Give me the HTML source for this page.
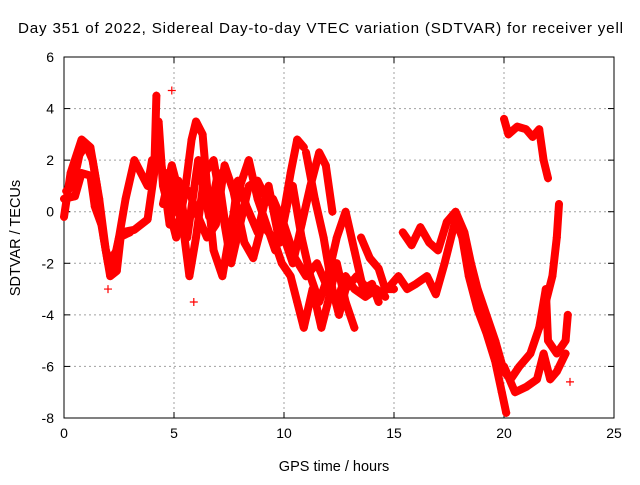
<!DOCTYPE html>
<html><head><meta charset="utf-8"><style>
body{margin:0;background:#fff}
svg text{font-family:"Liberation Sans",sans-serif;fill:#000}
</style></head><body>
<svg id="chart" width="640" height="480" xmlns="http://www.w3.org/2000/svg">
<text x="18" y="33" font-size="15.2" textLength="605" lengthAdjust="spacing">Day 351 of 2022, Sidereal Day-to-day VTEC variation (SDTVAR) for receiver yell</text>
<g id="grid"></g>
<g id="axes"></g>
<g id="marks"></g>
<text x="334" y="471" font-size="14.5" text-anchor="middle">GPS time / hours</text>
<text transform="translate(20,238) rotate(-90)" font-size="14.5" text-anchor="middle">SDTVAR / TECUs</text>
</svg>
<script>
const xTicks=[0,5,10,15,20,25];
const yTicks=[-8,-6,-4,-2,0,2,4,6];
const trackA=[[0,-0.2],[0.3,1.5],[0.8,2.8],[1.2,2.5],[1.5,1.0],[1.8,-1.0],[2.1,-2.5],[2.4,-2.3],[2.6,-0.8],[3.2,-0.7],[3.8,-0.3],[4.1,1.5],[4.2,4.5]];
const trackB=[[0,0.5],[0.5,0.6],[0.8,1.5],[1.2,1.4],[1.4,0.2],[1.7,-0.5],[2.0,-2.0],[2.4,-1.5],[2.8,0.5],[3.2,2.0],[3.5,1.5],[3.8,1.0],[4.0,2.0]];
const trackC=[[4.3,3.5],[4.5,1],[4.8,0],[5.1,-1],[5.5,0.8],[5.8,2.8],[6.0,3.5],[6.3,3.0],[6.5,1],[6.8,-1.5],[7.2,-2.5],[7.6,-0.5],[8.0,1.0],[8.4,2.0],[8.8,0.5],[9.2,-0.5],[9.6,-1.5],[9.9,-0.5],[10.3,1.5],[10.6,2.8],[10.9,2.5]];
const trackD=[[4.7,1.5],[5.0,0.5],[5.4,-0.5],[5.7,-2.5],[6.0,-1],[6.4,1.5],[6.8,2.0],[7.2,0],[7.6,-2],[8.0,-0.5],[8.4,1.0],[8.8,1.2],[9.2,0.5],[9.6,0.2],[10.0,-1],[10.4,-2],[10.8,-0.5],[11.2,1],[11.6,2.3],[11.9,1.8],[12.2,0]];
const trackE=[[4.5,0.3],[4.9,1.8],[5.3,0.5],[5.7,0.8],[6.0,0],[6.5,-1],[6.9,-0.5],[7.3,1.8],[7.7,0.8],[8.2,-1.2],[8.6,-1.8],[9.0,-0.5],[9.5,-1],[9.9,-2],[10.3,-2.5],[10.6,-3.5],[10.9,-4.5],[11.3,-3],[11.7,-4.5],[12.0,-3.5],[12.4,-2],[12.8,-3.5],[13.2,-4.5]];
const trackF=[[10.4,1],[10.8,-1],[11.2,-2.5],[11.6,-3.5],[12.0,-2.5],[12.4,-1],[12.8,0],[13.2,-1.5],[13.6,-3],[14.0,-2.8],[14.3,-3.5]];
const trackG=[[11.0,2.3],[11.4,0.5],[11.8,-1],[12.2,-3],[12.5,-4],[12.8,-3],[13.3,-2.5],[13.8,-3.0],[14.2,-3.2],[14.7,-3],[15.2,-2.5],[15.6,-3.0],[16.0,-2.8],[16.5,-2.5],[16.9,-3.2],[17.3,-2.0],[17.8,-0.3],[18.1,-1],[18.4,-2.5],[18.8,-3.8],[19.2,-4.7],[19.6,-5.8],[19.9,-7],[20.1,-7.8]];
const trackH=[[13.5,-1],[13.9,-1.8],[14.3,-2.2],[14.6,-3.0],[15.0,-3.0]];
const trackI=[[15.4,-0.8],[15.8,-1.3],[16.2,-0.6],[16.6,-1.2],[17.0,-1.5],[17.4,-0.4],[17.8,0.0],[18.2,-0.8],[18.5,-2],[18.8,-3],[19.2,-4],[19.6,-5],[20.0,-6.2],[20.3,-6.5],[20.7,-6],[21.2,-5.5],[21.6,-4.5],[21.9,-3],[22.0,-5],[22.4,-5.5],[22.8,-5],[22.9,-4]];
const trackJ=[[20.0,-6],[20.5,-7.0],[21.0,-6.8],[21.5,-6.5],[21.8,-5.5],[22.1,-6.5],[22.4,-6.2],[22.8,-5.5]];
const trackK=[[20.0,3.6],[20.2,3.0],[20.6,3.3],[21.0,3.2],[21.3,2.9],[21.6,3.2],[21.8,2.0],[22.0,1.3]];
const trackL=[[21.6,-4.5],[21.9,-3.5],[22.2,-2.5],[22.4,-1],[22.5,0.3]];
const trackM=[[4.4,2],[4.8,-0.5],[5.2,1.2],[5.6,-1],[6.1,2],[6.6,-0.2],[7.0,1.5],[7.5,-1.5],[7.9,1.2],[8.3,0.2],[8.8,-0.8],[9.3,1],[9.8,-1.2],[10.2,0.5]];
const trackN=[[9.5,0.5],[10.0,-0.5],[10.5,-1.8],[11.0,-2.5],[11.5,-2],[12.0,-3],[12.4,-3.5],[12.8,-2.5],[13.2,-3],[13.7,-3.3],[14.2,-3],[14.6,-3.3]];
const trackO=[[0.1,0.8],[0.4,1.0],[0.7,2.2],[1.0,2.6],[1.3,2.0],[1.6,0.5],[1.9,-1.5],[2.2,-2.2],[2.5,-1.0],[3.0,-0.8]];
const strays=[[23.0,-6.6],[2.0,-3.0],[4.9,4.7],[5.9,-3.5]];
const tracks=[trackA,trackB,trackC,trackD,trackE,trackF,trackG,trackH,trackI,trackJ,trackK,trackL,trackM,trackN,trackO];
const L=64,R=614,T=57,B=418;
const xS=v=>L+(v-0)/25*(R-L);
const yS=v=>B-(v+8)/14*(B-T);
const NS="http://www.w3.org/2000/svg";
function mk(t,a,p){const e=document.createElementNS(NS,t);for(const k in a)e.setAttribute(k,a[k]);p.appendChild(e);return e;}
const grid=document.getElementById('grid'),axes=document.getElementById('axes'),marks=document.getElementById('marks');
xTicks.forEach(t=>{const x=xS(t);
 if(t>0&&t<25){const g=mk('line',{x1:x,x2:x,y1:T,y2:B,stroke:'#a0a0a0','stroke-dasharray':'2,3'},grid);}
 mk('line',{x1:x,x2:x,y1:B,y2:B-6,stroke:'#000'},axes);mk('line',{x1:x,x2:x,y1:T,y2:T+6,stroke:'#000'},axes);
 const tx=mk('text',{x:x,y:B+20,'font-size':14,'text-anchor':'middle'},axes);tx.textContent=t;
 });
yTicks.forEach(t=>{const y=yS(t);
 if(t>-8&&t<6){const g=mk('line',{x1:L,x2:R,y1:y,y2:y,stroke:'#a0a0a0','stroke-dasharray':'2,3'},grid);}
 mk('line',{x1:L,x2:L+6,y1:y,y2:y,stroke:'#000'},axes);mk('line',{x1:R,x2:R-6,y1:y,y2:y,stroke:'#000'},axes);
 const tx=mk('text',{x:L-10,y:y+5,'font-size':14,'text-anchor':'end'},axes);tx.textContent=t;
 });
const fr=mk('rect',{x:L,y:T,width:R-L,height:B-T,fill:'none',stroke:'#000'},axes);

function plus(v){const x=xS(v[0]),y=yS(v[1]);
 const p=mk('path',{d:`M${x-4},${y}h8M${x},${y-4}v8`,stroke:'#f00','stroke-width':1.2},marks);
 }
tracks.forEach(tr=>{
 const pl=mk('polyline',{points:tr.map(v=>xS(v[0])+','+yS(v[1])).join(' '),fill:'none',stroke:'#f00','stroke-width':8,'stroke-linejoin':'round','stroke-linecap':'round'},marks);
 
 tr.forEach(plus);});
strays.forEach(plus);
</script>
</body></html>
